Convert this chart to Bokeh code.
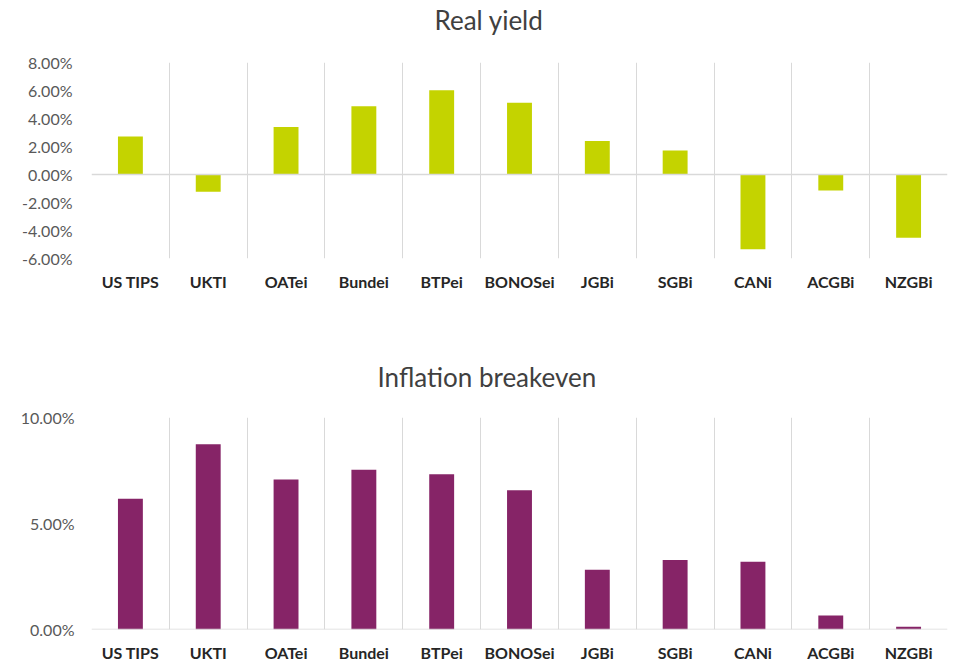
from bokeh.plotting import figure
from bokeh.models import (Range1d, FixedTicker, Span, PrintfTickFormatter,
                          CustomJSTickFormatter, Title)
from bokeh.layouts import column
from bokeh.embed import file_html
from bokeh.resources import INLINE

categories = ["US TIPS", "UKTI", "OATei", "Bundei", "BTPei", "BONOSei",
              "JGBi", "SGBi", "CANi", "ACGBi", "NZGBi"]
real_yield = [2.71, -1.24, 3.40, 4.88, 6.02, 5.12, 2.40, 1.71, -5.34, -1.14, -4.52]
breakeven = [6.17, 8.74, 7.08, 7.54, 7.32, 6.57, 2.82, 3.28, 3.20, 0.66, 0.13]
real_ticks = [-6, -4, -2, 0, 2, 4, 6, 8]
breakeven_ticks = [0, 5, 10]

GREEN = "#c4d300"
PURPLE = "#862467"
GRID = "#d9d9d9"
FONT = "Lato"
W = 955

n = len(categories)
centers = [i + 0.5 for i in range(n)]
bounds = list(range(n + 1))


def make(title, values, color, ymin, ymax, ticks, height, top, bottom, left, right,
         title_offset, gap, xstand, ystand):
    p = figure(x_range=Range1d(0, n), y_range=Range1d(ymin, ymax),
               width=W, height=height, output_backend="svg", toolbar_location=None,
               min_border_top=top, min_border_bottom=bottom,
               min_border_left=left, min_border_right=right, title=title)
    p.vbar(x=centers, top=values, width=0.32, color=color, line_color=None)
    p.xgrid.ticker = FixedTicker(ticks=bounds)
    p.xgrid.grid_line_color = GRID
    p.xgrid.grid_line_width = 1
    p.ygrid.visible = False
    p.add_layout(Span(location=0, dimension="width", line_color=GRID, line_width=1.5))
    p.outline_line_color = None
    p.background_fill_color = "white"
    p.border_fill_color = "white"

    # empty spacer between the title and the plot area
    p.add_layout(Title(text=" ", text_font_size="1px", standoff=gap), "above")

    p.title.text_font = FONT
    p.title.text_font_size = "26px"
    p.title.text_font_style = "normal"
    p.title.text_color = "#404040"
    p.title.align = "left"
    p.title.offset = title_offset
    p.title.standoff = 0

    xa = p.xaxis[0]
    xa.ticker = FixedTicker(ticks=centers)
    xa.formatter = CustomJSTickFormatter(args=dict(cats=categories),
                                         code="return cats[Math.floor(tick)] || '';")
    xa.axis_line_color = None
    xa.major_tick_line_color = None
    xa.minor_tick_line_color = None
    xa.major_tick_out = 0
    xa.major_label_standoff = xstand
    xa.major_label_text_font = FONT
    xa.major_label_text_font_style = "bold"
    xa.major_label_text_font_size = "16px"
    xa.major_label_text_color = "#262626"

    ya = p.yaxis[0]
    ya.ticker = FixedTicker(ticks=ticks)
    ya.formatter = PrintfTickFormatter(format="%.2f%%")
    ya.axis_line_color = None
    ya.major_tick_line_color = None
    ya.minor_tick_line_color = None
    ya.major_tick_out = 0
    ya.major_label_standoff = ystand
    ya.major_label_text_font = FONT
    ya.major_label_text_font_size = "16px"
    ya.major_label_text_color = "#595959"
    return p


p1 = make("Real yield", real_yield, GREEN, -6, 8, real_ticks, 357, 62, 99, 89, 8,
          343, 24, 13, 19)
p2 = make("Inflation breakeven", breakeven, PURPLE, 0, 10, breakeven_ticks, 307, 60, 34, 91, 2,
          286, 22, 13, 17)

layout = column(p1, p2, spacing=0)
open("out.html", "w").write(file_html(layout, INLINE))
